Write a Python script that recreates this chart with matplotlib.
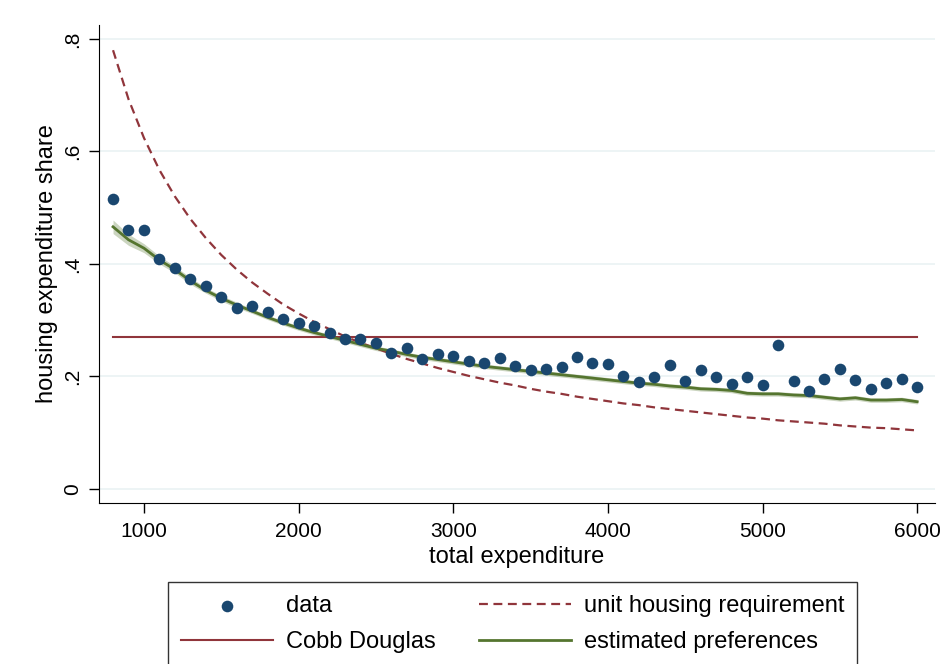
import numpy as np
import matplotlib.pyplot as plt

plt.rcParams['font.family'] = ['Liberation Sans', 'DejaVu Sans']

# total expenditure grid (800 .. 6000, step 100)
expenditure = list(range(800, 6001, 100))

# observed housing shares
data_share = [0.516, 0.460, 0.460, 0.409, 0.393, 0.374, 0.360, 0.341, 0.321, 0.325,
              0.314, 0.302, 0.295, 0.290, 0.277, 0.267, 0.266, 0.259, 0.242, 0.251,
              0.231, 0.240, 0.237, 0.228, 0.223, 0.233, 0.219, 0.212, 0.213, 0.217,
              0.234, 0.223, 0.222, 0.201, 0.190, 0.199, 0.221, 0.192, 0.211, 0.199,
              0.186, 0.199, 0.184, 0.255, 0.192, 0.174, 0.196, 0.213, 0.194, 0.177,
              0.188, 0.196, 0.181]

# Cobb Douglas share (constant)
cobb_douglas = 0.27

# unit housing requirement
unit_req = [0.780, 0.693, 0.624, 0.567, 0.520, 0.480, 0.446, 0.416, 0.390, 0.367,
            0.347, 0.328, 0.312, 0.297, 0.284, 0.271, 0.260, 0.250, 0.240, 0.231,
            0.223, 0.215, 0.208, 0.201, 0.195, 0.189, 0.184, 0.178, 0.173, 0.169,
            0.164, 0.160, 0.156, 0.152, 0.149, 0.145, 0.142, 0.139, 0.136, 0.133,
            0.130, 0.127, 0.125, 0.122, 0.120, 0.118, 0.116, 0.113, 0.111, 0.109,
            0.108, 0.106, 0.104]

# estimated preferences (fitted) and band half-width
est_pref = [0.466, 0.443, 0.428, 0.407, 0.390, 0.370, 0.353, 0.339, 0.327, 0.316,
            0.305, 0.295, 0.286, 0.278, 0.271, 0.264, 0.257, 0.250, 0.245, 0.239,
            0.234, 0.230, 0.226, 0.222, 0.218, 0.215, 0.212, 0.209, 0.206, 0.203,
            0.200, 0.197, 0.194, 0.191, 0.188, 0.186, 0.183, 0.181, 0.178, 0.177,
            0.175, 0.170, 0.169, 0.169, 0.167, 0.166, 0.163, 0.160, 0.162, 0.158,
            0.158, 0.159, 0.155]
est_band = [0.012, 0.010, 0.008, 0.007, 0.006, 0.006, 0.005, 0.005, 0.005, 0.004,
            0.004, 0.004, 0.004, 0.004, 0.004, 0.004, 0.004, 0.004, 0.004, 0.004,
            0.004, 0.004, 0.004, 0.004, 0.004, 0.004, 0.004, 0.004, 0.004, 0.004,
            0.004, 0.004, 0.004, 0.004, 0.004, 0.004, 0.004, 0.004, 0.004, 0.004,
            0.004, 0.004, 0.004, 0.004, 0.004, 0.004, 0.004, 0.004, 0.004, 0.004,
            0.004, 0.004, 0.004]

x = np.array(expenditure)
est = np.array(est_pref)
band = np.array(est_band)

navy = '#1a476f'
maroon = '#90353b'
green = '#55752f'

fig = plt.figure(figsize=(9.47, 6.64), dpi=100)
ax = fig.add_axes([0.1045, 0.2425, 0.883, 0.72])

for yv in [0, 0.2, 0.4, 0.6, 0.8]:
    ax.axhline(yv, color='#eaf2f3', lw=1.2, zorder=0)

ax.scatter(x, data_share, s=70, color=navy, zorder=4, label='data', linewidths=0)
ax.plot([x[0], x[-1]], [cobb_douglas, cobb_douglas], color=maroon, lw=1.5,
        label='Cobb Douglas', zorder=3)
ax.plot(x, unit_req, color=maroon, lw=1.6, ls=(0, (4, 2.5)),
        label='unit housing requirement', zorder=3)
ax.fill_between(x, est - band, est + band, color=green, alpha=0.3, lw=0, zorder=2)
ax.plot(x, est, color=green, lw=2, label='estimated preferences', zorder=3)

ax.set_xlim(709, 6116)
ax.set_ylim(-0.025, 0.825)
ax.set_xticks([1000, 2000, 3000, 4000, 5000, 6000])
ax.set_yticks([0, 0.2, 0.4, 0.6, 0.8])
ax.set_yticklabels(['0', '.2', '.4', '.6', '.8'], rotation=90, va='center')
ax.tick_params(labelsize=15, length=7, width=1, pad=5)
ax.tick_params(axis='x', pad=7)
ax.set_xlabel('total expenditure', fontsize=17, labelpad=3)
ax.set_ylabel('housing expenditure share', fontsize=17, labelpad=4)

ax.spines['top'].set_visible(False)
ax.spines['right'].set_visible(False)

handles, labels = ax.get_legend_handles_labels()
order = ['data', 'Cobb Douglas', 'unit housing requirement', 'estimated preferences']
hmap = dict(zip(labels, handles))
leg = fig.legend([hmap[k] for k in order], order, loc='upper center',
                 bbox_to_anchor=(0.5415, 0.1235), ncol=2, fontsize=17,
                 frameon=True, fancybox=False, edgecolor='black',
                 handlelength=3.9, handletextpad=0.55, columnspacing=1.8,
                 borderpad=0.55, labelspacing=0.6, scatterpoints=1,
                 borderaxespad=0)
leg.get_frame().set_linewidth(1)

fig.savefig('out.png', dpi=100)
